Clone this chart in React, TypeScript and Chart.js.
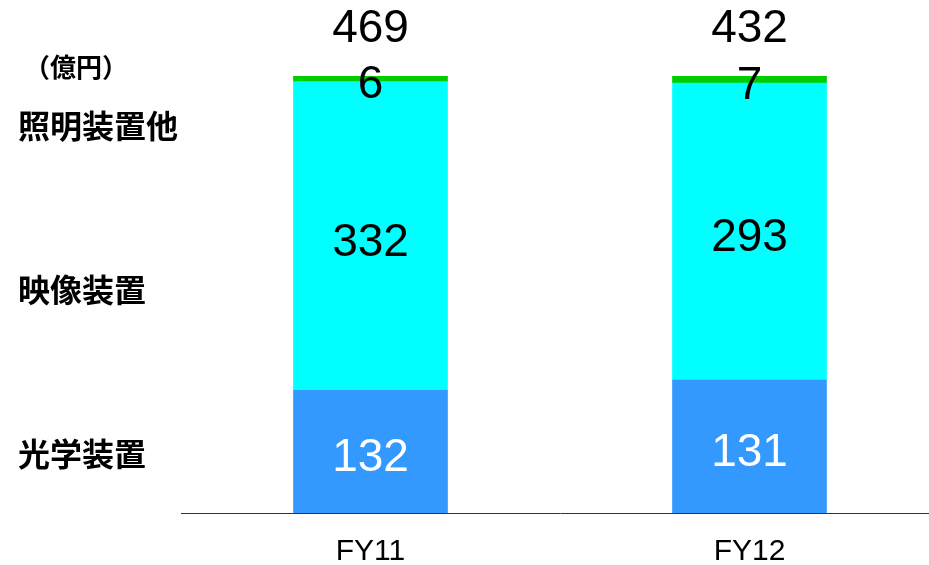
import React, { useEffect, useRef } from 'react';
import { Chart, registerables } from 'chart.js';

Chart.register(...registerables);

const categories = ['FY11', 'FY12'];
const seriesNames = ['光学装置', '映像装置', '照明装置他'];
const optical = [132, 131];
const video = [332, 293];
const lighting = [6, 7];
const totals = [469, 432];
const unitLabel = '（億円）';

const seriesValues = [optical, video, lighting];
const seriesColors = ['#3399FF', '#00FFFF', '#00CC00'];
const labelColors = ['#FFFFFF', '#000000', '#000000'];

const sums = categories.map((_, i) => seriesValues.reduce((s, arr) => s + arr[i], 0));

const NUM_FONT = '46px "Liberation Sans", Arial, sans-serif';
const JP_FONT = 'bold 32px "Noto Sans CJK JP", sans-serif';
const UNIT_FONT = 'bold 26px "Noto Sans CJK JP", sans-serif';

const labelsPlugin = {
  id: 'customLabels',
  afterDatasetsDraw(chart: any) {
    const ctx = chart.ctx;
    ctx.save();
    ctx.textAlign = 'center';
    ctx.textBaseline = 'middle';
    ctx.font = NUM_FONT;
    chart.data.datasets.forEach((ds: any, di: number) => {
      const meta = chart.getDatasetMeta(di);
      meta.data.forEach((el: any, i: number) => {
        const { x, y, base } = el.getProps(['x', 'y', 'base'], true);
        ctx.fillStyle = labelColors[di];
        ctx.fillText(String(seriesValues[di][i]), x, (y + base) / 2 + 7);
      });
    });
    const topMeta = chart.getDatasetMeta(chart.data.datasets.length - 1);
    topMeta.data.forEach((el: any, i: number) => {
      const { x, y } = el.getProps(['x', 'y'], true);
      ctx.fillStyle = '#000000';
      ctx.fillText(String(totals[i]), x, y - 47);
    });

    // series names on the left
    ctx.textAlign = 'left';
    ctx.font = JP_FONT;
    ctx.fillStyle = '#000000';
    const nameY = [454, 290, 126];
    seriesNames.forEach((n, i) => {
      ctx.fillText(n, 18, nameY[i]);
    });
    ctx.font = UNIT_FONT;
    ctx.fillText(unitLabel, 24, 67);
    ctx.restore();
  },
};

export default function App() {
  const canvasRef = useRef<HTMLCanvasElement | null>(null);

  useEffect(() => {
    if (!canvasRef.current) return;
    const chart = new Chart(canvasRef.current, {
      type: 'bar',
      data: {
        labels: categories,
        datasets: seriesValues.map((vals, di) => ({
          label: seriesNames[di],
          data: vals.map((v, i) => (v / sums[i]) * 100),
          backgroundColor: seriesColors[di],
          borderWidth: 0,
          barThickness: 154,
        })),
      },
      options: {
        animation: false,
        responsive: true,
        maintainAspectRatio: false,
        layout: { padding: { left: 181, top: 76, right: 0, bottom: 0 } },
        plugins: {
          legend: { display: false },
          tooltip: { enabled: false },
          title: { display: false },
        },
        scales: {
          x: {
            stacked: true,
            grid: { display: true, color: 'rgba(0,0,0,0)', drawTicks: false },
            border: { display: true, color: '#333333', width: 1 },
            ticks: {
              color: '#000000',
              padding: 21,
              font: { family: '"Liberation Sans", Arial, sans-serif', size: 30 },
            },
            afterFit: (scale: any) => {
              scale.height = 52;
            },
          },
          y: {
            stacked: true,
            display: false,
            min: 0,
            max: 100,
          },
        },
      },
      plugins: [labelsPlugin],
    });
    return () => chart.destroy();
  }, []);

  return (
    <div
      style={{
        position: 'fixed',
        left: 0,
        top: 0,
        width: 929,
        height: 565,
        overflow: 'hidden',
        background: '#ffffff',
      }}
    >
      <div style={{ position: 'relative', width: 939, height: 565 }}>
        <canvas ref={canvasRef} />
      </div>
    </div>
  );
}
